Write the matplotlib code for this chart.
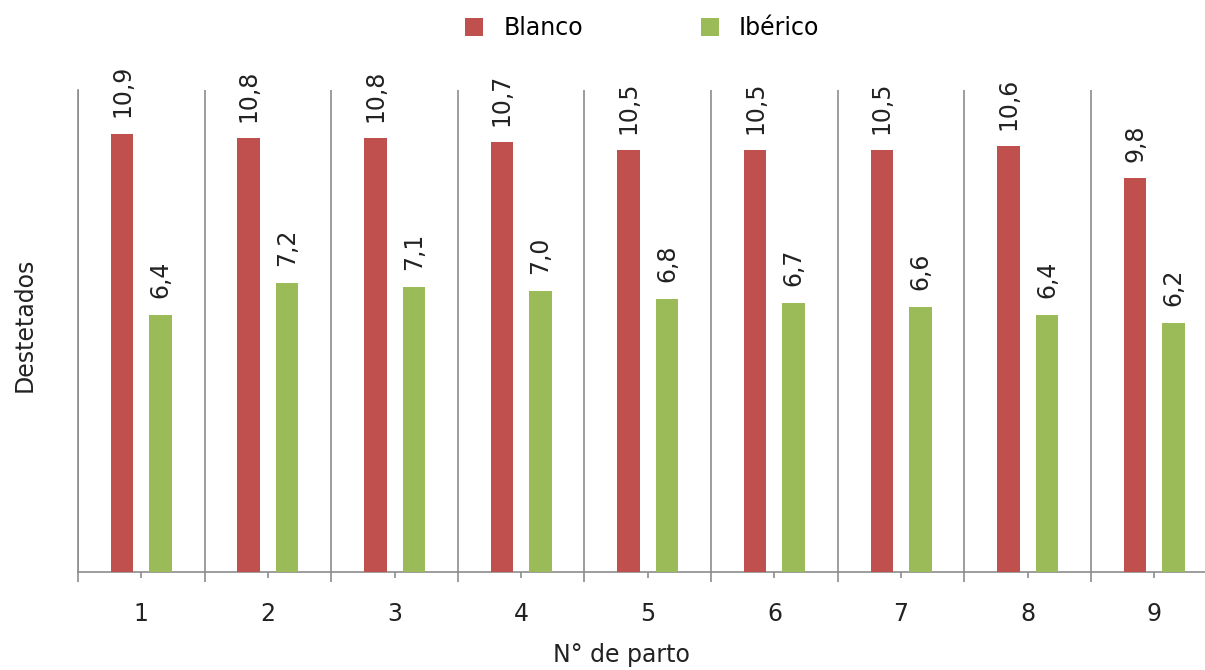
import numpy as np
import matplotlib
matplotlib.use("Agg")
import matplotlib.pyplot as plt

partos = ["1", "2", "3", "4", "5", "6", "7", "8", "9"]
blanco = [10.9, 10.8, 10.8, 10.7, 10.5, 10.5, 10.5, 10.6, 9.8]
iberico = [6.4, 7.2, 7.1, 7.0, 6.8, 6.7, 6.6, 6.4, 6.2]

c_blanco = "#C0504D"
c_iberico = "#9BBB59"
grid_c = "#8C8C8C"
txt_c = "#222222"

plt.rcParams["font.family"] = ["DejaVu Sans"]
fs = 17

fig = plt.figure(figsize=(12.05, 6.7), dpi=100)
ax = fig.add_axes([0.0647, 0.1463, 0.9458, 0.7194])

x = np.arange(1, len(partos) + 1)
w = 0.178
off = 0.152
b1 = ax.bar(x - off, blanco, w, color=c_blanco, label="Blanco", zorder=3)
b2 = ax.bar(x + off, iberico, w, color=c_iberico, label="Ibérico", zorder=3)

# value labels, rotated, with decimal comma
for bars, vals in ((b1, blanco), (b2, iberico)):
    for r, v in zip(bars, vals):
        ax.annotate(f"{v:.1f}".replace(".", ","),
                    (r.get_x() + r.get_width() / 2, v),
                    xytext=(0, 12), textcoords="offset points",
                    rotation=90, ha="center", va="bottom",
                    fontsize=fs, color=txt_c)

ax.set_xlim(0.5, len(partos) + 0.5)
ax.set_ylim(0, 12)
ax.set_yticks([])

ax.set_xticks(x)
ax.set_xticklabels(partos, fontsize=fs, color=txt_c)
ax.set_xticks(np.arange(0.5, len(partos) + 1), minor=True)
ax.tick_params(axis="x", which="major", length=4.3, width=1.2, color=grid_c, pad=17)
ax.tick_params(axis="x", which="minor", length=7.2, width=1.2, color=grid_c)
ax.grid(axis="x", which="minor", color=grid_c, linewidth=1.2, zorder=0)

for s in ("top", "right"):
    ax.spines[s].set_visible(False)
for s in ("left", "bottom"):
    ax.spines[s].set_color(grid_c)
    ax.spines[s].set_linewidth(1.2)

ax.set_ylabel("Destetados", fontsize=fs, color=txt_c, va="center")
ax.yaxis.set_label_coords(-0.0465, 0.512)
ax.set_xlabel("N° de parto", fontsize=fs, color=txt_c, va="center")
ax.xaxis.set_label_coords(0.477, -0.172)

fig.legend(handles=[b1, b2], loc="center", bbox_to_anchor=(0.533, 0.958),
           ncol=2, frameon=False, fontsize=fs, handlelength=0.76,
           handleheight=0.76, handletextpad=0.85, columnspacing=5.0)

fig.savefig("out.png", dpi=100)
